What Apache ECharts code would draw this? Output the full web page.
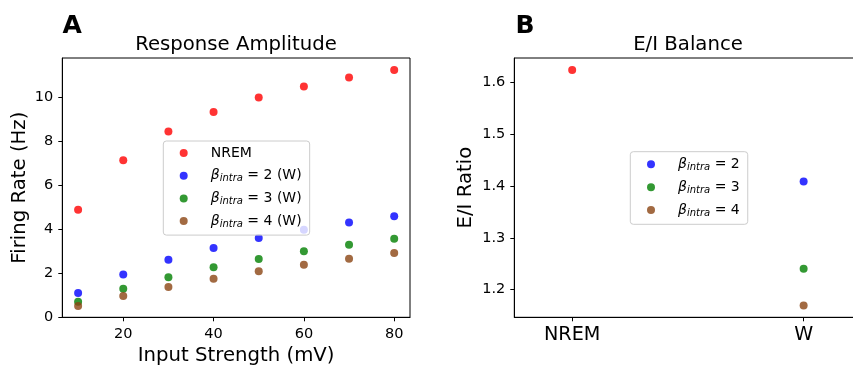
<!DOCTYPE html>
<html><head><meta charset="utf-8">
<script src="https://cdn.jsdelivr.net/npm/echarts@6/dist/echarts.min.js"></script>
<style>html,body{margin:0;padding:0;background:#fff}#c{width:853px;height:366px}</style>
</head><body><div id="c"></div>
<script>
// ---- Panel A data ----
const inputStrength = [10, 20, 30, 40, 50, 60, 70, 80];
const nremRate  = [4.89, 7.14, 8.44, 9.33, 9.98, 10.48, 10.89, 11.23];
const beta2Rate = [1.10, 1.95, 2.62, 3.15, 3.60, 3.98, 4.31, 4.59];
const beta3Rate = [0.71, 1.30, 1.82, 2.27, 2.65, 3.00, 3.30, 3.57];
const beta4Rate = [0.51, 0.97, 1.38, 1.75, 2.09, 2.39, 2.66, 2.92];
const strengthTicks = [20, 40, 60, 80];
const rateTicks = [0, 2, 4, 6, 8, 10];
// ---- Panel B data ----
const stateCategories = ['NREM', 'W'];
const eiNrem  = [1.6245];
const eiBeta2 = [1.409];
const eiBeta3 = [1.240];
const eiBeta4 = [1.169];
const ratioTicks = [1.2, 1.3, 1.4, 1.5, 1.6];

const FONT = 'DejaVu Sans';
const chart = echarts.init(document.getElementById('c'), null, {renderer: 'canvas'});

const pairs = (xs, ys) => xs.map((x, i) => [x, ys[i]]);
const catPairs = (cat, ys) => ys.map(v => [stateCategories.indexOf(cat), v]);

const legendNames = {
  'A_NREM': 'NREM',
  'A_b2': '{g|β}{s|intra}{n| = 2 (W)}',
  'A_b3': '{g|β}{s|intra}{n| = 3 (W)}',
  'A_b4': '{g|β}{s|intra}{n| = 4 (W)}',
  'B_b2': '{g|β}{s|intra}{n| = 2}',
  'B_b3': '{g|β}{s|intra}{n| = 3}',
  'B_b4': '{g|β}{s|intra}{n| = 4}'
};
const rich = {
  g: {fontFamily: FONT, fontStyle: 'italic', fontSize: 14, lineHeight: 16, color: '#000'},
  s: {fontFamily: FONT, fontStyle: 'italic', fontSize: 10, lineHeight: 7, verticalAlign: 'bottom', color: '#000'},
  n: {fontFamily: FONT, fontSize: 14, lineHeight: 16, color: '#000'}
};
const legendCommon = {
  orient: 'vertical',
  icon: 'circle',
  itemWidth: 8, itemHeight: 8,
  selectedMode: false,
  backgroundColor: 'rgba(255,255,255,0.8)',
  borderColor: '#cccccc', borderWidth: 1, borderRadius: 3,
  formatter: n => legendNames[n],
  textStyle: {fontFamily: FONT, fontSize: 14, lineHeight: 16, color: '#000', padding: [0, 0, 0, 18], rich: rich}
};

const axisCommon = {
  axisLine: {show: true, onZero: false, lineStyle: {color: '#000', width: 1}},
  axisTick: {show: true, inside: false, length: 4, lineStyle: {color: '#000'}},
  splitLine: {show: false},
  axisLabel: {fontFamily: FONT, fontSize: 14.5, color: '#000', margin: 9},
  nameTextStyle: {fontFamily: FONT, fontSize: 19.7, color: '#000'}
};

const option = {
  animation: false,
  backgroundColor: '#fff',
  grid: [
    {left: 62.3, right: 443, top: 58, bottom: 48.7, show: true, borderColor: '#000', borderWidth: 1, outerBoundsMode: 'none', containLabel: false},
    {left: 514.3, right: -8.5, top: 58, bottom: 48.7, show: true, borderColor: '#000', borderWidth: 1, outerBoundsMode: 'none', containLabel: false}
  ],
  xAxis: [
    Object.assign({}, axisCommon, {
      type: 'value', gridIndex: 0, min: 6.5, max: 83.5,
      name: 'Input Strength (mV)', nameLocation: 'middle', nameGap: 27,
      axisTick: Object.assign({}, axisCommon.axisTick, {customValues: strengthTicks}),
      axisLabel: Object.assign({}, axisCommon.axisLabel, {customValues: strengthTicks})
    }),
    Object.assign({}, axisCommon, {
      type: 'value', gridIndex: 1, min: -0.25, max: 1.25,
      axisTick: Object.assign({}, axisCommon.axisTick, {customValues: [0, 1]}),
      axisLabel: Object.assign({}, axisCommon.axisLabel, {customValues: [0, 1], fontSize: 19.2, margin: 8.5,
        formatter: v => stateCategories[Math.round(v)]})
    })
  ],
  yAxis: [
    Object.assign({}, axisCommon, {
      type: 'value', gridIndex: 0, min: 0, max: 11.78,
      name: 'Firing Rate (Hz)', nameLocation: 'middle', nameGap: 32.5, nameRotate: 90,
      axisTick: Object.assign({}, axisCommon.axisTick, {customValues: rateTicks}),
      axisLabel: Object.assign({}, axisCommon.axisLabel, {customValues: rateTicks})
    }),
    Object.assign({}, axisCommon, {
      type: 'value', gridIndex: 1, min: 1.1462, max: 1.6478,
      name: 'E/I Ratio', nameLocation: 'middle', nameGap: 38, nameRotate: 90,
      axisTick: Object.assign({}, axisCommon.axisTick, {customValues: ratioTicks}),
      axisLabel: Object.assign({}, axisCommon.axisLabel, {customValues: ratioTicks, formatter: v => v.toFixed(1)})
    })
  ],
  legend: [
    Object.assign({}, legendCommon, {
      left: 163.3, top: 141, itemGap: 6.7, padding: [4, 8, 6, 16.4],
      data: ['A_NREM', 'A_b2', 'A_b3', 'A_b4']
    }),
    Object.assign({}, legendCommon, {
      left: 630.3, top: 151.7, itemGap: 6.85, padding: [4.6, 8, 6.3, 16.7],
      data: ['B_b2', 'B_b3', 'B_b4']
    })
  ],
  graphic: [
    {type: 'text', left: 62.5, top: 13.5, style: {text: 'A', fontFamily: FONT, fontWeight: 'bold', fontSize: 25, fill: '#000'}},
    {type: 'text', left: 515.5, top: 13.5, style: {text: 'B', fontFamily: FONT, fontWeight: 'bold', fontSize: 25, fill: '#000'}},
    {type: 'text', x: 236, y: 44.6, style: {text: 'Response Amplitude', fontFamily: FONT, fontSize: 19.7, fill: '#000', align: 'center', verticalAlign: 'middle'}},
    {type: 'text', x: 688, y: 44.6, style: {text: 'E/I Balance', fontFamily: FONT, fontSize: 19.7, fill: '#000', align: 'center', verticalAlign: 'middle'}}
  ],
  series: [
    {name: 'A_NREM', type: 'scatter', xAxisIndex: 0, yAxisIndex: 0, symbolSize: 8, data: pairs(inputStrength, nremRate), itemStyle: {color: '#ff0000', opacity: 0.8}},
    {name: 'A_b2', type: 'scatter', xAxisIndex: 0, yAxisIndex: 0, symbolSize: 8, data: pairs(inputStrength, beta2Rate), itemStyle: {color: '#0000ff', opacity: 0.8}},
    {name: 'A_b3', type: 'scatter', xAxisIndex: 0, yAxisIndex: 0, symbolSize: 8, data: pairs(inputStrength, beta3Rate), itemStyle: {color: '#008000', opacity: 0.8}},
    {name: 'A_b4', type: 'scatter', xAxisIndex: 0, yAxisIndex: 0, symbolSize: 8, data: pairs(inputStrength, beta4Rate), itemStyle: {color: '#8b4513', opacity: 0.8}},
    {name: 'B_NREM', type: 'scatter', xAxisIndex: 1, yAxisIndex: 1, symbolSize: 8, data: catPairs('NREM', eiNrem), itemStyle: {color: '#ff0000'}},
    {name: 'B_b2', type: 'scatter', xAxisIndex: 1, yAxisIndex: 1, symbolSize: 8, data: catPairs('W', eiBeta2), itemStyle: {color: '#0000ff'}},
    {name: 'B_b3', type: 'scatter', xAxisIndex: 1, yAxisIndex: 1, symbolSize: 8, data: catPairs('W', eiBeta3), itemStyle: {color: '#008000'}},
    {name: 'B_b4', type: 'scatter', xAxisIndex: 1, yAxisIndex: 1, symbolSize: 8, data: catPairs('W', eiBeta4), itemStyle: {color: '#8b4513'}}
  ]
};
chart.setOption(option);
</script>
</body></html>
